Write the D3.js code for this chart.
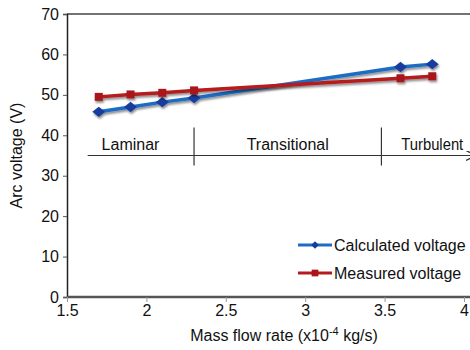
<!DOCTYPE html>
<html>
<head>
<meta charset="utf-8">
<script src="https://cdn.jsdelivr.net/npm/d3@7"></script>
<style>
  body { margin: 0; background: #fff; }
  svg { display: block; font-family: "Liberation Sans", Arial, sans-serif; }
</style>
</head>
<body>
<div id="chart"></div>
<script>
// Data
const flowRates = [1.7, 1.9, 2.1, 2.3, 3.6, 3.8];
const calculated = [45.8, 47.0, 48.2, 49.2, 56.9, 57.6];
const measured = [49.5, 50.1, 50.5, 51.1, 54.1, 54.6];
const xTicks = [1.5, 2, 2.5, 3, 3.5, 4];
const yTicks = [0, 10, 20, 30, 40, 50, 60, 70];
const regimes = ['Laminar', 'Transitional', 'Turbulent'];
const regimeBounds = [1.63, 2.3, 3.48, 4.05];
const regimeLevel = 35;

const width = 470, height = 350;
const margin = { top: 14, right: 5, bottom: 53, left: 67 };
const fontSize = 16;

const svg = d3.select('#chart').append('svg')
    .attr('width', width)
    .attr('height', height);

const defs = svg.append('defs');
const shadow = defs.append('filter').attr('id', 'shadow')
    .attr('x', '-50%').attr('y', '-50%').attr('width', '200%').attr('height', '200%');
shadow.append('feDropShadow')
    .attr('dx', 1).attr('dy', 2).attr('stdDeviation', 1.2)
    .attr('flood-color', '#000').attr('flood-opacity', 0.45);

defs.append('marker').attr('id', 'arrow')
    .attr('viewBox', '0 0 10 10').attr('refX', 9).attr('refY', 5)
    .attr('markerWidth', 10).attr('markerHeight', 10)
    .attr('markerUnits', 'userSpaceOnUse')
    .attr('orient', 'auto')
    .append('path').attr('d', 'M0,0 L10,5 L0,10')
    .attr('fill', 'none').attr('stroke', '#333').attr('stroke-width', 1.2);

const x = d3.scaleLinear().domain([1.5, 4]).range([margin.left, 464]);
const y = d3.scaleLinear().domain([0, 70]).range([297, margin.top]);

// Top border
svg.append('line')
    .attr('x1', margin.left).attr('x2', width)
    .attr('y1', y(70)).attr('y2', y(70))
    .attr('stroke', '#444').attr('stroke-width', 1.5);

// Y axis
const yAxis = svg.append('g')
    .attr('transform', `translate(${margin.left},0)`)
    .call(d3.axisLeft(y).tickValues(yTicks).tickSize(4).tickPadding(4));
yAxis.select('.domain').attr('stroke', '#222').attr('stroke-width', 1.5);
yAxis.selectAll('.tick line').attr('stroke', '#555');
yAxis.selectAll('text').attr('font-size', fontSize).attr('fill', '#111')
    .attr('font-family', '"Liberation Sans", Arial, sans-serif');

// X axis
const xAxis = svg.append('g')
    .attr('transform', `translate(0,${y(0)})`)
    .call(d3.axisBottom(x).tickValues(xTicks).tickSize(5).tickPadding(3)
        .tickFormat(d3.format('')));
xAxis.select('.domain').attr('d', `M${margin.left},0H${width}`)
    .attr('stroke', '#555').attr('stroke-width', 2.5);
xAxis.selectAll('.tick line').attr('stroke', '#999');
xAxis.selectAll('text').attr('font-size', fontSize).attr('fill', '#111')
    .attr('font-family', '"Liberation Sans", Arial, sans-serif');

// Axis titles
svg.append('text')
    .attr('transform', `translate(22,${(y(0) + y(70)) / 2}) rotate(-90)`)
    .attr('text-anchor', 'middle')
    .attr('font-size', fontSize).attr('fill', '#111')
    .text('Arc voltage (V)');

const xTitle = svg.append('text')
    .attr('x', 284).attr('y', 341)
    .attr('text-anchor', 'middle')
    .attr('font-size', fontSize).attr('fill', '#111');
xTitle.append('tspan').text('Mass flow rate (x10');
xTitle.append('tspan').attr('dy', -6).attr('font-size', 11).text('-4');
xTitle.append('tspan').attr('dy', 6).text(' kg/s)');

// Regime annotation
const ann = svg.append('g');
ann.append('line')
    .attr('x1', x(regimeBounds[0])).attr('x2', x(regimeBounds[3]) + 3)
    .attr('y1', y(regimeLevel)).attr('y2', y(regimeLevel))
    .attr('stroke', '#333').attr('stroke-width', 1.2)
    .attr('marker-end', 'url(#arrow)');
[regimeBounds[1], regimeBounds[2]].forEach(b => {
    ann.append('line')
        .attr('x1', x(b)).attr('x2', x(b))
        .attr('y1', y(regimeLevel) - 28).attr('y2', y(regimeLevel) + 10)
        .attr('stroke', '#333').attr('stroke-width', 1.2);
});
const labelCenters = [x(1.9), x(2.89), x(3.8)];
regimes.forEach((r, i) => {
    const t = ann.append('text')
        .attr('x', labelCenters[i]).attr('y', y(regimeLevel) - 6)
        .attr('text-anchor', 'middle')
        .attr('font-size', fontSize).attr('fill', '#111')
        .text(r);
    // last label is squeezed into the right edge, as in the source
    if (i === regimes.length - 1) {
        t.attr('textLength', 62).attr('lengthAdjust', 'spacingAndGlyphs');
    }
});

// Series
const series = [
    { name: 'Calculated voltage', values: calculated, line: '#1f6cc4', mark: '#173c9e', symbol: d3.symbolDiamond, size: 75 },
    { name: 'Measured voltage', values: measured, line: '#b51a1f', mark: '#a8161b', symbol: d3.symbolSquare, size: 64 }
];

const lineGen = d3.line().x(d => x(d[0])).y(d => y(d[1]));

series.forEach(s => {
    const pts = flowRates.map((f, i) => [f, s.values[i]]);
    const g = svg.append('g').attr('filter', 'url(#shadow)');
    g.append('path')
        .datum(pts)
        .attr('d', lineGen)
        .attr('fill', 'none')
        .attr('stroke', s.line)
        .attr('stroke-width', 3.5);
    g.selectAll('path.pt')
        .data(pts)
        .enter()
        .append('path')
        .attr('class', 'pt')
        .attr('transform', d => `translate(${x(d[0])},${y(d[1])})` + (s.symbol === d3.symbolDiamond ? ' scale(1.05,0.85) rotate(45)' : ''))
        .attr('d', d3.symbol().type(d3.symbolSquare).size(s.size))
        .attr('fill', s.mark);
});

// Legend
const legend = svg.append('g');
series.forEach((s, i) => {
    const ly = 245 + i * 28;
    legend.append('line')
        .attr('x1', 298).attr('x2', 332)
        .attr('y1', ly).attr('y2', ly)
        .attr('stroke', s.line).attr('stroke-width', 3);
    legend.append('path')
        .attr('transform', `translate(315,${ly})` + (s.symbol === d3.symbolDiamond ? ' rotate(45)' : ''))
        .attr('d', d3.symbol().type(d3.symbolSquare).size(i === 0 ? 30 : 45))
        .attr('fill', s.mark);
    legend.append('text')
        .attr('x', 334).attr('y', ly + 6)
        .attr('font-size', fontSize).attr('fill', '#111')
        .text(s.name);
});
</script>
</body>
</html>
